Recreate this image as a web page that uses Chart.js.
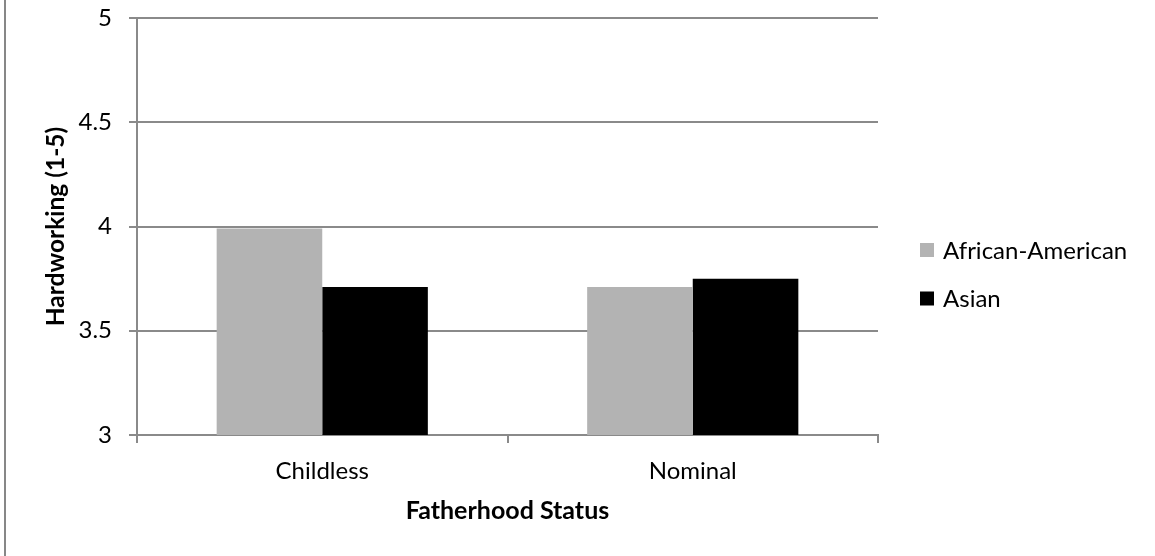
<!DOCTYPE html>
<html>
<head>
<meta charset="utf-8">
<script src="https://cdn.jsdelivr.net/npm/chart.js@4.4.1/dist/chart.umd.min.js"></script>
<style>
  html, body { margin: 0; padding: 0; background: #fff; }
  #wrap { position: relative; width: 1155px; height: 556px; }
  #frame { position: absolute; left: 4px; top: 0; width: 2px; height: 556px; background: #878787; }
  canvas { position: absolute; left: 0; top: 0; }
</style>
</head>
<body>
<div id="wrap">
  <canvas id="chart" width="1155" height="556"></canvas>
  <div id="frame"></div>
</div>
<script>
// Mean "hardworking" ratings by fatherhood status and target race
const categories = ['Childless', 'Nominal'];
const seriesNames = ['African-American', 'Asian'];
const africanAmerican = [3.99, 3.71];
const asian = [3.71, 3.75];
const yTicks = [3, 3.5, 4, 4.5, 5];

const FONT = 'Lato, "Open Sans", sans-serif';
const GRID = '#8a8a8a';

// Legend drawn beside the plot, stacked vertically
const sideLegend = {
  id: 'sideLegend',
  afterDraw(chart) {
    const ctx = chart.ctx;
    const x0 = 920, y0 = 250, step = 48.5, box = 14;
    ctx.save();
    ctx.font = '24px ' + FONT;
    ctx.textBaseline = 'middle';
    ctx.textAlign = 'left';
    chart.data.datasets.forEach((ds, i) => {
      const cy = y0 + i * step;
      ctx.fillStyle = ds.backgroundColor;
      ctx.fillRect(x0, cy - box / 2, box, box);
      ctx.fillStyle = '#000';
      ctx.fillText(ds.label, x0 + 23, cy + 1);
    });
    ctx.restore();
  }
};

new Chart(document.getElementById('chart'), {
  type: 'bar',
  data: {
    labels: categories,
    datasets: [
      { label: seriesNames[0], data: africanAmerican, backgroundColor: '#b3b3b3' },
      { label: seriesNames[1], data: asian, backgroundColor: '#000000' }
    ]
  },
  options: {
    responsive: false,
    animation: false,
    devicePixelRatio: 1,
    layout: { padding: { left: 0, top: 18, right: 277, bottom: 20 } },
    categoryPercentage: 0.57,
    barPercentage: 1.0,
    plugins: {
      legend: { display: false },
      tooltip: { enabled: false }
    },
    scales: {
      x: {
        offset: true,
        grid: { display: true, drawOnChartArea: false, drawTicks: true, tickLength: 8, color: GRID, lineWidth: 2 },
        border: { display: true, color: GRID, width: 2 },
        ticks: { color: '#000', font: { family: FONT, size: 24 }, padding: 14 },
        title: {
          display: true,
          text: 'Fatherhood Status',
          color: '#000',
          font: { family: FONT, size: 25, weight: 'bold' },
          padding: { top: 0, bottom: 10 }
        },
        afterFit(scale) {
          scale.height = 556 - 20 - 435;
          scale.paddingLeft = 0;
          scale.paddingRight = 0;
        }
      },
      y: {
        min: 3,
        max: 5,
        afterBuildTicks(scale) { scale.ticks = yTicks.map(v => ({ value: v })); },
        grid: { color: GRID, lineWidth: 2, drawTicks: true, tickLength: 8 },
        border: { display: true, color: GRID, width: 2 },
        ticks: {
          color: '#000',
          font: { family: FONT, size: 24 },
          padding: 17,
          callback: v => String(v)
        },
        title: {
          display: true,
          text: 'Hardworking (1-5)',
          color: '#000',
          font: { family: FONT, size: 24.5, weight: 'bold' },
          padding: { top: 41, bottom: 0 }
        },
        afterFit(scale) {
          scale.width = 137;
          scale.paddingTop = 0;
          scale.paddingBottom = 0;
        }
      }
    }
  },
  plugins: [sideLegend]
});
</script>
</body>
</html>
